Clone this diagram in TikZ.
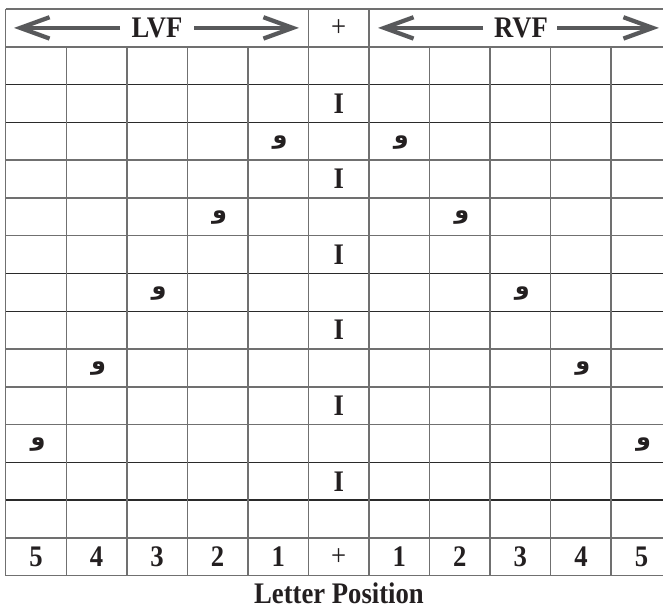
\documentclass[tikz,border=0pt]{standalone}
\usepackage{fontspec}
\setmainfont{Liberation Serif}
\newfontfamily\arabicfont[Script=Arabic]{DejaVu Sans}
\TeXXeTstate=1
\usetikzlibrary{arrows.meta}
\definecolor{txt}{HTML}{231F20}
\definecolor{gridgray}{HTML}{707070}
\definecolor{griddark}{HTML}{2A2A2A}
\definecolor{arrgray}{HTML}{58595B}
\tikzset{
  gline/.style={draw=gridgray, line width=1.1pt},
  dline/.style={draw=griddark, line width=1.0pt},
  bigtxt/.style={text=txt, font=\bfseries\fontsize{20}{22}\selectfont, inner sep=0pt},
  plustxt/.style={text=txt, font=\fontsize{20}{22}\selectfont, inner sep=0pt},
  waw/.style={text=txt, font=\arabicfont\bfseries\fontsize{18}{20}\selectfont, inner sep=0pt},
  varrow/.style={draw=arrgray, line width=3.2pt, -{Straight Barb[length=22pt, width=16pt, line width=3.2pt]}},
}
\newcommand{\tall}[1]{\scalebox{1}[1.12]{#1}}
\begin{document}
\begin{tikzpicture}[x=0.75pt,y=-0.75pt]
\useasboundingbox (0,0) rectangle (663,608);
\begin{scope}
\clip (0,0) rectangle (663,608);
\def\xo{5.7}\def\cw{60.55}
\def\yo{9}\def\rh{37.78}
% horizontal lines
\foreach \j in {0,1,4,5,6,9,10,11,14,15}{
  \draw[gline] (\xo,{\yo+\rh*\j}) -- ({\xo+\cw*11},{\yo+\rh*\j});
}
\foreach \j in {2,3,7,8,12,13}{
  \draw[dline] (\xo,{\yo+\rh*\j}) -- ({\xo+\cw*11},{\yo+\rh*\j});
}
% vertical lines
\foreach \i in {1,2,3,4,7,8,9,10}{
  \draw[gline] ({\xo+\cw*\i},{\yo+\rh}) -- ({\xo+\cw*\i},{\yo+\rh*15});
}
\foreach \i in {0,5,6,11}{
  \draw[gline] ({\xo+\cw*\i},{\yo}) -- ({\xo+\cw*\i},{\yo+\rh*15});
}
% header
\node[bigtxt] (lvf) at (157,{\yo+\rh*0.5}) {\tall{LVF}};
\node[bigtxt] (rvf) at (521,{\yo+\rh*0.5}) {\tall{RVF}};
\node[plustxt] (hplus) at ({\xo+\cw*5.5},{\yo+\rh*0.5}) {\tall{+}};
\coordinate (lvfL) at (120,{\yo+\rh*0.5});
\coordinate (lvfR) at (194,{\yo+\rh*0.5});
\coordinate (lvfLtip) at (14,{\yo+\rh*0.5});
\coordinate (lvfRtip) at (299,{\yo+\rh*0.5});
\coordinate (rvfL) at (483,{\yo+\rh*0.5});
\coordinate (rvfR) at (557,{\yo+\rh*0.5});
\coordinate (rvfLtip) at (378,{\yo+\rh*0.5});
\coordinate (rvfRtip) at (659,{\yo+\rh*0.5});
\draw[varrow] (lvfL) -- (lvfLtip);
\draw[varrow] (lvfR) -- (lvfRtip);
\draw[varrow] (rvfL) -- (rvfLtip);
\draw[varrow] (rvfR) -- (rvfRtip);
% fixation I's
\foreach \r in {2,4,6,8,10,12}{
  \node[bigtxt] (fix\r) at ({\xo+\cw*5.5},{\yo+\rh*(\r+0.5)}) {\tall{I}};
}
% waw letters
\foreach \r/\a/\b in {3/4/6,5/3/7,7/2/8,9/1/9,11/0/10}{
  \node[waw] (wl\r) at ({\xo+\cw*(\a+0.5)+2},{\yo+\rh*(\r+0.5)+1}) {\beginR و\endR};
  \node[waw] (wr\r) at ({\xo+\cw*(\b+0.5)+2},{\yo+\rh*(\r+0.5)+1}) {\beginR و\endR};
}
% bottom numbers
\foreach \i/\t in {0/5,1/4,2/3,3/2,4/1,6/1,7/2,8/3,9/4,10/5}{
  \node[bigtxt] (num\i) at ({\xo+\cw*(\i+0.5)},{\yo+\rh*14.5}) {\tall{\t}};
}
\node[plustxt] (bplus) at ({\xo+\cw*5.5},{\yo+\rh*14.5}) {\tall{+}};
\end{scope}
\node[bigtxt, anchor=base] (title) at (339,603) {\tall{Letter Position}};
\end{tikzpicture}
\end{document}
